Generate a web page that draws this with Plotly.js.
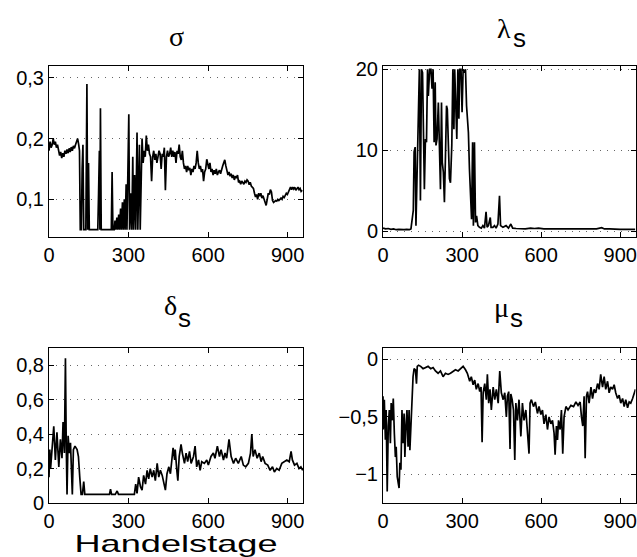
<!DOCTYPE html>
<html>
<head>
<meta charset="utf-8">
<script src="https://cdn.plot.ly/plotly-3.0.1.min.js"></script>
<style>
  html, body { margin: 0; padding: 0; background: #fff; }
  #chart { width: 637px; height: 557px; }
</style>
</head>
<body>
<div id="chart"></div>
<script>
// ---------- DATA ----------
const sigmaDays = [
  0,4,8,12,16,20,24,28,32,36,
  40,44,48,52,56,60,64,68,72,76,
  80,84,88,92,96,100,104,108,112,115,
  118,122,125,128,131,135,139,143,146,149,
  152,156,160,170,180,184,187,190,192,194,
  197,205,215,225,232,235,238,241,246,249,
  252,256,259,263,266,270,273,277,280,284,
  287,291,294,297,301,304,308,312,316,319,
  323,327,332,335,338,341,344,348,351,355,
  359,363,367,371,375,379,383,387,391,395,
  399,403,407,411,415,419,423,427,431,435,
  439,443,447,451,455,459,463,467,471,475,
  479,483,487,491,495,499,503,507,511,515,
  519,523,527,531,535,539,543,547,551,555,
  559,563,567,571,575,579,583,587,591,595,
  599,603,607,611,615,619,623,627,631,635,
  639,643,647,651,655,659,663,667,671,675,
  679,683,687,691,695,699,703,707,711,715,
  719,723,727,731,735,739,743,747,751,755,
  759,763,767,771,775,779,783,787,791,795,
  799,803,807,811,815,819,823,827,831,835,
  839,843,847,851,855,859,863,867,871,875,
  879,883,887,891,895,899,903,907,911,915,
  919,923,927,931,935,939,943,947,951,955
];
const sigmaVals = [
  0.180,0.195,0.185,0.190,0.200,0.190,0.195,0.185,0.190,0.180,
  0.172,0.178,0.168,0.176,0.170,0.180,0.175,0.182,0.176,0.184,
  0.178,0.186,0.180,0.188,0.184,0.190,0.195,0.200,0.190,0.180,
  0.050,0.050,0.150,0.190,0.050,0.050,0.050,0.290,0.050,0.160,
  0.050,0.050,0.050,0.050,0.050,0.050,0.110,0.180,0.050,0.250,
  0.050,0.050,0.050,0.050,0.050,0.050,0.145,0.050,0.050,0.065,
  0.050,0.070,0.050,0.075,0.050,0.085,0.050,0.095,0.050,0.100,
  0.050,0.125,0.050,0.110,0.240,0.050,0.110,0.050,0.170,0.050,
  0.140,0.050,0.210,0.050,0.180,0.190,0.050,0.170,0.200,0.160,
  0.180,0.170,0.205,0.180,0.190,0.175,0.170,0.130,0.170,0.180,
  0.165,0.175,0.160,0.170,0.180,0.175,0.150,0.175,0.170,0.185,
  0.115,0.170,0.180,0.170,0.175,0.185,0.170,0.180,0.170,0.178,
  0.160,0.180,0.175,0.190,0.170,0.165,0.180,0.160,0.150,0.155,
  0.145,0.155,0.148,0.152,0.140,0.150,0.145,0.155,0.150,0.160,
  0.180,0.160,0.150,0.155,0.145,0.150,0.130,0.145,0.150,0.166,
  0.155,0.150,0.160,0.145,0.150,0.140,0.148,0.142,0.150,0.140,
  0.145,0.148,0.142,0.150,0.155,0.160,0.165,0.155,0.145,0.140,
  0.145,0.138,0.142,0.135,0.140,0.132,0.138,0.135,0.140,0.128,
  0.130,0.125,0.130,0.128,0.125,0.130,0.128,0.132,0.130,0.124,
  0.128,0.122,0.120,0.118,0.110,0.104,0.108,0.100,0.110,0.105,
  0.110,0.102,0.106,0.100,0.095,0.090,0.100,0.110,0.108,0.116,
  0.112,0.098,0.095,0.096,0.098,0.097,0.100,0.098,0.100,0.102,
  0.100,0.105,0.103,0.106,0.110,0.108,0.113,0.115,0.120,0.116,
  0.120,0.117,0.120,0.115,0.118,0.120,0.116,0.118,0.113,0.115
];

const lambdaDays = [
  0,10,20,30,40,50,60,70,80,90,
  100,106,111,115,118,122,125,129,132,135,
  138,142,146,150,153,157,161,165,169,172,
  177,182,186,190,194,198,201,205,210,214,
  218,222,225,229,233,237,241,244,248,252,
  256,261,265,269,272,276,280,284,288,291,
  296,300,304,309,313,317,321,324,328,332,
  336,340,343,347,351,355,360,366,373,379,
  385,391,395,400,407,410,417,423,429,436,
  442,446,455,467,476,485,492,505,520,540,
  560,575,590,610,630,650,670,690,710,730,
  750,770,790,810,830,840,860,880,900,920,
  940,957
];
const lambdaVals = [
  0.4,0.3,0.35,0.25,0.3,0.2,0.25,0.2,0.2,0.25,
  0.2,0.3,1.5,2.6,9.8,10.4,0.7,8,11.4,15.9,
  20,3.8,20,19.6,11.4,5.2,11.4,11,20,16.7,
  20,20,17.6,20,11,18.4,10.6,11.4,15.9,8.5,
  5.2,15.9,8.5,7.3,3.6,9.3,15.5,15.1,9.3,6.5,
  6,10.6,20,12.6,20,13.5,11.4,20,13.9,20,
  20,14.7,20,19.6,20,15.5,13.9,12.2,7.7,3.6,
  1.5,11,0.7,11,1.1,1.9,0.7,0.5,0.4,0.7,
  0.4,2.4,0.5,0.7,1.7,0.5,0.5,0.7,0.4,0.9,
  4.4,0.7,0.5,0.7,0.4,0.9,0.4,0.35,0.3,0.3,
  0.4,0.35,0.4,0.3,0.3,0.3,0.25,0.3,0.25,0.3,
  0.25,0.3,0.25,0.3,0.45,0.3,0.3,0.25,0.25,0.25,
  0.25,0.25
];

const deltaDays = [
  0,3,6,11,18,24,30,37,43,49,
  53,58,62,65,68,72,77,81,84,88,
  92,98,106,111,116,121,126,131,135,160,
  200,228,232,236,250,257,262,300,322,327,
  332,338,345,351,357,364,370,376,382,389,
  395,401,408,414,420,427,433,439,445,452,
  458,468,474,476,482,486,491,498,503,511,
  517,523,530,536,545,551,557,564,570,576,
  586,595,601,611,620,626,635,643,649,658,
  664,670,679,687,696,704,714,725,733,742,
  752,760,765,770,777,785,793,800,806,815,
  825,834,843,850,859,868,878,888,897,906,
  913,918,926,935,943,950,957
];
const deltaVals = [
  0.15,0.31,0.2,0.29,0.445,0.25,0.41,0.21,0.37,0.26,
  0.47,0.29,0.84,0.35,0.05,0.39,0.29,0.35,0.19,0.05,
  0.31,0.33,0.31,0.27,0.15,0.05,0.05,0.125,0.05,0.05,
  0.05,0.05,0.08,0.05,0.05,0.07,0.05,0.05,0.05,0.11,
  0.056,0.15,0.095,0.075,0.16,0.11,0.19,0.14,0.2,0.15,
  0.19,0.13,0.23,0.15,0.19,0.16,0.11,0.075,0.17,0.21,
  0.17,0.32,0.25,0.31,0.19,0.13,0.27,0.34,0.29,0.23,
  0.29,0.24,0.3,0.23,0.27,0.33,0.21,0.25,0.19,0.24,
  0.23,0.25,0.22,0.27,0.29,0.26,0.33,0.27,0.31,0.25,
  0.29,0.26,0.37,0.27,0.23,0.26,0.23,0.27,0.22,0.21,
  0.23,0.29,0.4,0.27,0.31,0.26,0.29,0.24,0.27,0.23,
  0.22,0.19,0.21,0.18,0.2,0.19,0.23,0.24,0.25,0.24,
  0.3,0.25,0.22,0.23,0.2,0.21,0.19
];

const muDays = [
  0,1,5,9,12,16,20,24,28,31,
  35,39,43,47,50,54,58,61,64,68,
  72,76,80,83,87,91,95,99,102,106,
  110,114,118,123,127,130,135,143,152,161,
  171,181,190,199,209,218,228,237,247,256,
  266,275,285,295,304,313,320,329,335,342,
  348,354,361,367,372,376,380,386,392,396,
  401,406,411,418,424,430,437,443,449,456,
  462,468,472,477,482,485,490,495,500,504,
  510,516,523,529,535,542,548,554,558,563,
  571,578,586,592,599,605,611,618,624,630,
  637,643,649,653,658,662,666,672,677,682,
  687,694,702,713,723,732,740,748,753,758,
  763,767,772,776,782,789,795,801,807,814,
  820,826,833,839,845,852,858,864,871,877,
  883,890,896,902,909,915,921,928,934,940,
  947,953,958
];
const muVals = [
  -0.32,-0.61,-0.35,-0.7,-0.44,-1.15,-0.58,-0.44,-0.73,-0.38,
  -0.53,-0.34,-0.64,-0.85,-0.76,-1.02,-1.08,-1.12,-0.9,-0.96,
  -0.44,-0.73,-0.47,-0.85,-0.58,-0.44,-0.76,-0.44,-0.79,-0.53,
  -0.29,-0.15,-0.08,-0.09,-0.21,-0.06,-0.05,-0.06,-0.08,-0.07,
  -0.06,-0.08,-0.07,-0.1,-0.12,-0.1,-0.15,-0.12,-0.13,-0.12,
  -0.1,-0.09,-0.1,-0.08,-0.06,-0.09,-0.12,-0.19,-0.15,-0.22,
  -0.18,-0.26,-0.21,-0.28,-0.24,-0.72,-0.29,-0.21,-0.35,-0.13,
  -0.38,-0.26,-0.44,-0.24,-0.35,-0.26,-0.38,-0.1,-0.29,-0.35,
  -0.29,-0.5,-0.32,-0.28,-0.78,-0.3,-0.35,-0.44,-0.875,-0.38,
  -0.53,-0.35,-0.67,-0.38,-0.53,-0.44,-0.61,-0.82,-0.38,-0.35,
  -0.41,-0.37,-0.47,-0.41,-0.48,-0.44,-0.56,-0.48,-0.61,-0.5,
  -0.56,-0.53,-0.64,-0.83,-0.58,-0.7,-0.53,-0.61,-0.44,-0.82,
  -0.5,-0.41,-0.44,-0.4,-0.41,-0.37,-0.4,-0.37,-0.5,-0.58,
  -0.32,-0.86,-0.32,-0.28,-0.38,-0.24,-0.34,-0.26,-0.29,-0.21,
  -0.26,-0.13,-0.24,-0.15,-0.26,-0.19,-0.29,-0.24,-0.26,-0.22,
  -0.29,-0.34,-0.31,-0.38,-0.34,-0.41,-0.35,-0.42,-0.37,-0.38,
  -0.34,-0.29,-0.26
];

// Tick values and labels
const xTickVals = [0, 300, 600, 900];
const xTickText = ['0', '300', '600', '900'];
const sigmaTickVals = [0.1, 0.2, 0.3];
const sigmaTickText = ['0,1', '0,2', '0,3'];
const lambdaTickVals = [0, 10, 20];
const lambdaTickText = ['0', '10', '20'];
const deltaTickVals = [0, 0.2, 0.4, 0.6, 0.8];
const deltaTickText = ['0', '0,2', '0,4', '0,6', '0,8'];
const muTickVals = [-1, -0.5, 0];
const muTickText = ['\u22121', '\u22120,5', '0'];

// Panel titles: Greek symbol plus (where present) the subscript "s"
const titleSymbols = ['σ', 'λ', 'δ', 'μ'];
const titleSubs = ['', 's', 's', 's'];
const xLabel = 'Handelstage';

// ---------- STYLE ----------
const W = 637, H = 557;
const tickFont = { family: 'Liberation Sans, Arial, sans-serif', size: 20, color: '#000' };
const lineStyle = { color: '#000', width: 1.7 };

function mk(x, y, xa, ya) {
  return { x: x, y: y, xaxis: xa, yaxis: ya, type: 'scatter', mode: 'lines',
           line: lineStyle, hoverinfo: 'skip', showlegend: false };
}

const data = [
  mk(sigmaDays, sigmaVals, 'x', 'y'),
  mk(lambdaDays, lambdaVals, 'x2', 'y2'),
  mk(deltaDays, deltaVals, 'x3', 'y3'),
  mk(muDays, muVals, 'x4', 'y4')
];

function xax(domain, anchor) {
  return {
    domain: domain, anchor: anchor, range: [0, 958],
    tickmode: 'array', tickvals: xTickVals, ticktext: xTickText,
    ticks: 'inside', ticklen: 5, tickcolor: '#000', tickwidth: 1,
    showline: true, linecolor: '#000', linewidth: 1, mirror: 'ticks',
    showgrid: false, zeroline: false, tickfont: tickFont, fixedrange: true
  };
}
function yax(domain, anchor, range, tv, tt) {
  return {
    domain: domain, anchor: anchor, range: range,
    tickmode: 'array', tickvals: tv, ticktext: tt,
    ticks: 'inside', ticklen: 5, tickcolor: '#000', tickwidth: 1,
    showline: true, linecolor: '#000', linewidth: 1, mirror: 'ticks',
    showgrid: true, gridcolor: '#666', gridwidth: 1, griddash: '1px,6px',
    zeroline: false, tickfont: tickFont, fixedrange: true
  };
}

const xL = [49 / W, 303 / W];
const xR = [383 / W, 635.5 / W];
const yT = [1 - 237 / H, 1 - 65.7 / H];
const yB = [1 - 503 / H, 1 - 348 / H];

const symFont = { family: 'Liberation Serif, Times New Roman, serif', size: 28, color: '#000' };
const subFont = { family: 'Liberation Sans, Arial, sans-serif', size: 26, color: '#000' };
function ann(text, xpx, ypx, xanchor, font) {
  return { text: text, x: xpx / W, y: 1 - ypx / H, xref: 'paper', yref: 'paper',
           xanchor: xanchor, yanchor: 'middle', showarrow: false, font: font,
           borderpad: 0 };
}

const xa3 = xax(xL, 'y3');
xa3.title = { text: xLabel, font: { family: 'Liberation Sans, Arial, sans-serif', size: 24, color: '#000' }, standoff: 1 };

const layout = {
  width: W, height: H,
  margin: { l: 0, r: 0, t: 0, b: 0 },
  paper_bgcolor: '#fff', plot_bgcolor: '#fff',
  showlegend: false,
  xaxis: xax(xL, 'y'),
  yaxis: yax(yT, 'x', [0.038, 0.32], sigmaTickVals, sigmaTickText),
  xaxis2: xax(xR, 'y2'),
  yaxis2: yax(yT, 'x2', [-0.7, 20.45], lambdaTickVals, lambdaTickText),
  xaxis3: xa3,
  yaxis3: yax(yB, 'x3', [0, 0.9], deltaTickVals, deltaTickText),
  xaxis4: xax(xR, 'y4'),
  yaxis4: yax(yB, 'x4', [-1.25, 0.1], muTickVals, muTickText),
  annotations: [
    ann(titleSymbols[0], 176, 36, 'center', symFont),
    ann(titleSymbols[1], 504, 28, 'center', symFont),
    ann(titleSubs[1], 512, 38, 'left', subFont),
    ann(titleSymbols[2], 170, 305, 'center', symFont),
    ann(titleSubs[2], 177, 318, 'left', subFont),
    ann(titleSymbols[3], 501, 307, 'center', symFont),
    ann(titleSubs[3], 509, 318, 'left', subFont)
  ]
};

Plotly.newPlot('chart', data, layout, { staticPlot: true, displayModeBar: false }).then(function (gd) {
  // The reference draws the x label in a wide face: stretch it to the same width.
  const t = gd.querySelector('.g-x3title text');
  if (t) {
    t.setAttribute('textLength', '203');
    t.setAttribute('lengthAdjust', 'spacingAndGlyphs');
  }
});
</script>
</body>
</html>
